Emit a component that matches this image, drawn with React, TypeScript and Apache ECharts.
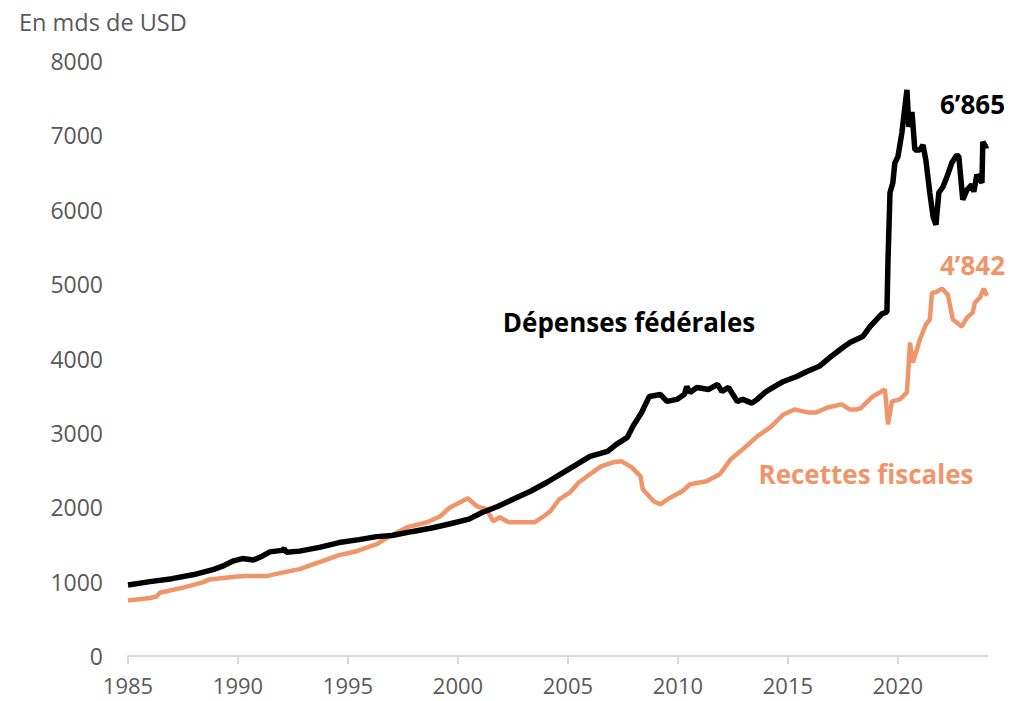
import React, { useEffect, useRef } from "react";
import * as echarts from "echarts";

const xTicks = [1985, 1990, 1995, 2000, 2005, 2010, 2015, 2020];

const depenses: [number, number][] = [
  [1985.0, 955], [1986.0, 1000], [1987.0, 1040], [1988.0, 1095], [1988.9, 1165],
  [1989.3, 1208], [1989.8, 1280], [1990.2, 1310], [1990.7, 1290], [1991.1, 1342],
  [1991.45, 1400], [1992.0, 1420], [1992.1, 1440], [1992.2, 1396], [1992.8, 1410],
  [1993.7, 1460], [1994.6, 1525], [1995.5, 1565], [1996.3, 1605], [1997.0, 1620],
  [1997.95, 1675], [1998.86, 1725], [1999.6, 1775], [2000.5, 1840], [2001.1, 1930],
  [2001.8, 2010], [2002.7, 2134], [2003.3, 2215], [2004.05, 2336], [2004.8, 2470],
  [2005.4, 2577], [2006.0, 2685], [2006.8, 2752], [2007.2, 2846], [2007.7, 2940],
  [2007.95, 3087], [2008.35, 3275], [2008.7, 3490], [2009.2, 3517], [2009.5, 3423],
  [2009.95, 3450], [2010.3, 3520], [2010.4, 3624], [2010.55, 3544], [2010.86, 3611],
  [2011.4, 3584], [2011.8, 3651], [2012.0, 3557], [2012.3, 3611], [2012.7, 3423],
  [2012.95, 3450], [2013.36, 3400], [2013.6, 3450], [2013.95, 3544], [2014.4, 3624],
  [2014.8, 3691], [2015.4, 3758], [2015.86, 3826], [2016.45, 3900], [2016.9, 4013],
  [2017.5, 4148], [2017.82, 4215], [2018.4, 4295], [2018.73, 4430], [2019.27, 4600],
  [2019.5, 4625], [2019.55, 5330], [2019.64, 6228], [2019.77, 6362], [2019.86, 6630],
  [2020.0, 6711], [2020.18, 7034], [2020.41, 7611], [2020.5, 7114], [2020.64, 7315],
  [2020.77, 6805], [2021.0, 6805], [2021.14, 6872], [2021.27, 6670], [2021.45, 6228],
  [2021.6, 5906], [2021.73, 5799], [2021.86, 6228], [2022.05, 6309], [2022.23, 6443],
  [2022.45, 6631], [2022.68, 6738], [2022.77, 6711], [2022.95, 6134], [2023.14, 6268],
  [2023.36, 6336], [2023.45, 6242], [2023.59, 6470], [2023.82, 6362], [2023.86, 6913],
  [2024.0, 6846], [2024.05, 6865],
];

const recettes: [number, number][] = [
  [1985.0, 745], [1986.0, 780], [1986.3, 800], [1986.45, 850], [1987.5, 920],
  [1988.4, 990], [1988.7, 1030], [1989.95, 1070], [1990.4, 1074], [1991.3, 1074],
  [1991.9, 1114], [1992.8, 1168], [1993.7, 1262], [1994.6, 1356], [1995.4, 1409],
  [1996.3, 1503], [1996.9, 1611], [1997.7, 1732], [1998.6, 1799], [1999.2, 1879],
  [1999.6, 1990], [2000.1, 2067], [2000.45, 2121], [2000.86, 2013], [2001.3, 1973],
  [2001.6, 1812], [2001.9, 1866], [2002.3, 1799], [2002.8, 1799], [2003.5, 1799],
  [2003.9, 1879], [2004.2, 1946], [2004.6, 2107], [2005.1, 2201], [2005.5, 2336],
  [2006.0, 2443], [2006.5, 2550], [2007.05, 2604], [2007.45, 2617], [2007.9, 2537],
  [2008.3, 2416], [2008.4, 2242], [2008.9, 2081], [2009.2, 2040], [2009.6, 2121],
  [2010.2, 2215], [2010.55, 2309], [2011.3, 2349], [2011.9, 2443], [2012.4, 2644],
  [2012.95, 2779], [2013.6, 2953], [2014.2, 3074], [2014.8, 3248], [2015.3, 3315],
  [2015.9, 3275], [2016.3, 3275], [2016.8, 3342], [2017.45, 3383], [2017.8, 3315],
  [2018.14, 3315], [2018.3, 3330], [2018.86, 3490], [2019.41, 3584], [2019.55, 3114],
  [2019.73, 3423], [2020.09, 3450], [2020.41, 3544], [2020.55, 4215], [2020.68, 3946],
  [2021.0, 4255], [2021.27, 4456], [2021.45, 4523], [2021.55, 4886], [2021.7, 4886],
  [2022.0, 4940], [2022.27, 4859], [2022.5, 4523], [2022.9, 4430], [2023.14, 4550],
  [2023.4, 4617], [2023.5, 4752], [2023.73, 4819], [2023.9, 4940], [2024.05, 4842],
];

const BLACK = "#000000";
const ORANGE = "#F0956A";
const GRAY = "#595959";
const FONT = "Open Sans";

export default function App() {
  const ref = useRef<HTMLDivElement>(null);
  useEffect(() => {
    if (!ref.current) return;
    const chart = echarts.init(ref.current, undefined, { renderer: "svg" });
    chart.setOption({
      animation: false,
      backgroundColor: "#ffffff",
      grid: { left: 128, right: 23, top: 61, bottom: 45, containLabel: false },
      xAxis: {
        type: "value",
        min: 1985,
        max: 2024.05,
        interval: 5,
        splitLine: { show: false },
        axisLine: { show: true, lineStyle: { color: "#D9D9D9", width: 2 } },
        axisTick: { show: true, length: 8, customValues: xTicks, lineStyle: { color: "#D9D9D9", width: 2 } },
        axisLabel: {
          customValues: xTicks,
          color: GRAY,
          fontSize: 22,
          lineHeight: 22,
          fontFamily: FONT,
          margin: 18,
          formatter: (v: number) => String(v),
        },
      },
      yAxis: {
        type: "value",
        min: 0,
        max: 8000,
        interval: 1000,
        splitLine: { show: false },
        axisLine: { show: false },
        axisTick: { show: false },
        axisLabel: {
          color: GRAY,
          fontSize: 23,
          fontFamily: FONT,
          margin: 25,
          formatter: (v: number) => String(v),
        },
      },
      series: [
        {
          type: "line",
          name: "Recettes fiscales",
          data: recettes,
          showSymbol: false,
          lineStyle: { color: ORANGE, width: 4.5 },
          z: 2,
        },
        {
          type: "line",
          name: "Dépenses fédérales",
          data: depenses,
          showSymbol: false,
          lineStyle: { color: BLACK, width: 5.5 },
          z: 3,
        },
      ],
      graphic: [
        {
          type: "text", x: 19, y: 22,
          style: { text: "En mds de USD", fill: GRAY, fontSize: 23.5, fontFamily: FONT, textVerticalAlign: "middle" },
        },
        {
          type: "text", x: 629, y: 322,
          style: { text: "Dépenses fédérales", fill: BLACK, fontSize: 26, fontWeight: "bold", fontFamily: FONT, textAlign: "center", textVerticalAlign: "middle" },
        },
        {
          type: "text", x: 866, y: 474,
          style: { text: "Recettes fiscales", fill: ORANGE, fontSize: 26, fontWeight: "bold", fontFamily: FONT, textAlign: "center", textVerticalAlign: "middle" },
        },
        {
          type: "text", x: 1005, y: 104,
          style: { text: "6’865", fill: BLACK, fontSize: 26, fontWeight: "bold", fontFamily: FONT, textAlign: "right", textVerticalAlign: "middle" },
        },
        {
          type: "text", x: 1005, y: 265,
          style: { text: "4’842", fill: ORANGE, fontSize: 26, fontWeight: "bold", fontFamily: FONT, textAlign: "right", textVerticalAlign: "middle" },
        },
      ],
    });
    return () => chart.dispose();
  }, []);
  return (
    <div
      ref={ref}
      style={{ position: "fixed", left: 0, top: 0, width: 1010, height: 701, background: "#fff" }}
    />
  );
}
